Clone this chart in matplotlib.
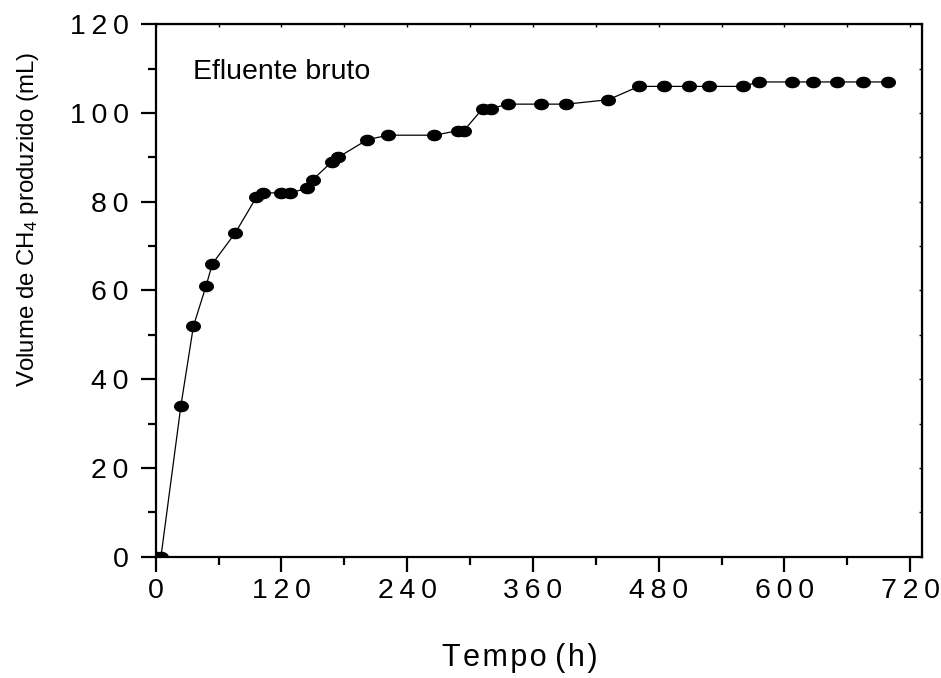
import numpy as np
import matplotlib
matplotlib.use("Agg")
import matplotlib.pyplot as plt
from matplotlib.path import Path
from matplotlib.ticker import MultipleLocator, FuncFormatter

plt.rcParams['font.family'] = ['Liberation Sans', 'DejaVu Sans']

# Tempo (h) e volume de CH4 acumulado (mL)
tempo = [0, 5, 24, 36, 48, 54, 76, 96, 102, 120, 128, 144, 150, 168, 174,
         202, 222, 266, 288, 294, 312, 320, 336, 368, 392, 432, 461, 485,
         509, 528, 560, 576, 607, 627, 650, 675, 699]
volume = [0, 0, 34, 52, 61, 66, 73, 81, 82, 82, 82, 83, 85, 89, 90,
          94, 95, 95, 96, 96, 101, 101, 102, 102, 102, 103, 106, 106,
          106, 106, 106, 107, 107, 107, 107, 107, 107]

x_ticks = [0, 120, 240, 360, 480, 600, 720]
y_ticks = [0, 20, 40, 60, 80, 100, 120]


def spaced(s, sep='\u2009'):
    # letter-spaced labels like the original
    return sep.join(s)


# slightly flattened circle marker
theta = np.linspace(0, 2 * np.pi, 40)
ellipse = Path(np.column_stack([np.cos(theta), 0.75 * np.sin(theta)]), closed=True)

fig = plt.figure(figsize=(9.41, 6.78), dpi=100)
ax = fig.add_axes([0.1655, 0.1789, 0.8140, 0.7853])

ax.plot(tempo, volume, color='black', linewidth=0.9, marker=ellipse,
        markersize=9.8, markerfacecolor='black', markeredgecolor='black')

ax.set_xlim(0, 731)
ax.set_ylim(0, 120)
ax.set_xticks(x_ticks)
ax.set_yticks(y_ticks)
ax.xaxis.set_minor_locator(MultipleLocator(60))
ax.yaxis.set_minor_locator(MultipleLocator(10))
ax.xaxis.set_major_formatter(FuncFormatter(lambda v, p: spaced(f'{v:.0f}')))
ax.yaxis.set_major_formatter(FuncFormatter(lambda v, p: spaced(f'{v:.0f}')))

for s in ax.spines.values():
    s.set_linewidth(1.6)

ax.tick_params(axis='both', which='major', direction='out', length=10.5,
               width=1.6, labelsize=20.5)
ax.tick_params(axis='both', which='minor', direction='out', length=5.5, width=1.6)
ax.tick_params(axis='x', which='major', pad=5)
ax.tick_params(axis='y', which='major', pad=9)

# small inner ticks on top and right frame
ax2 = ax.secondary_xaxis('top')
ax2.set_xticks(x_ticks)
ax2.xaxis.set_minor_locator(MultipleLocator(60))
ax2.tick_params(which='both', direction='in', length=2.5, width=1.0, labeltop=False)
ax3 = ax.secondary_yaxis('right')
ax3.set_yticks(y_ticks)
ax3.yaxis.set_minor_locator(MultipleLocator(10))
ax3.tick_params(which='both', direction='in', length=2.5, width=1.0, labelright=False)

fig.text(520 / 941, 1 - 658 / 678, spaced('Tempo', '\u200a') + ' ' + spaced('(h)', '\u200a'),
         fontsize=22, ha='center', va='center')
fig.text(28 / 941, 1 - 220 / 678, r'Volume de CH$\mathregular{_4}$ produzido (mL)',
         fontsize=17.3, rotation=90, ha='center', va='center')

ax.text(0.049, 0.91, 'Efluente bruto',
        transform=ax.transAxes, fontsize=20.5, va='center', ha='left')

fig.savefig('out.png', dpi=100)
